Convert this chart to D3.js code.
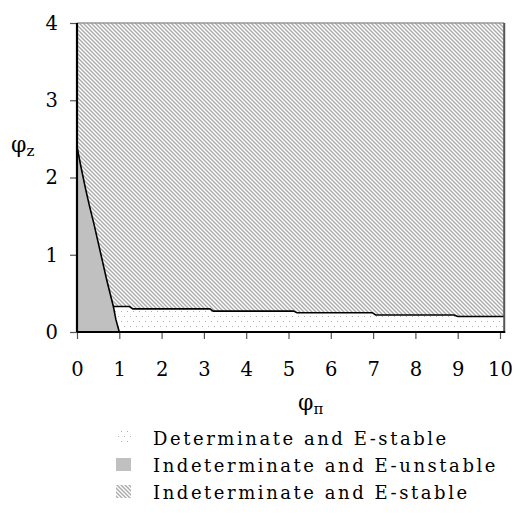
<!DOCTYPE html>
<html><head><meta charset="utf-8">
<script src="https://cdn.jsdelivr.net/npm/d3@7"></script>
<style>body{margin:0;background:#fff}svg{display:block}</style>
</head><body>
<svg id="c" width="520" height="513"></svg>
<script>
const xTicks = [0,1,2,3,4,5,6,7,8,9,10];
const yTicks = [0,1,2,3,4];
// boundary between E-unstable (left) and the rest
const unstableX = [0, 0.1, 0.2, 0.3, 0.4, 0.5, 0.6, 0.7, 0.8, 0.86, 0.92, 1.0];
const unstableY = [2.4, 2.12, 1.86, 1.62, 1.4, 1.16, 0.92, 0.68, 0.46, 0.33, 0.16, 0.0];
// upper boundary of determinate region
const detX = [0.86, 1.24, 1.32, 3.14, 3.22, 5.12, 5.2, 6.98, 7.06, 8.92, 9.0, 10.1];
const detY = [0.33, 0.33, 0.30, 0.30, 0.27, 0.27, 0.25, 0.25, 0.22, 0.22, 0.20, 0.20];
const legendLabels = ["Determinate and E-stable","Indeterminate and E-unstable","Indeterminate and E-stable"];

const svg = d3.select("#c");
const x = d3.scaleLinear().domain([0,10]).range([77,500]);
const y = d3.scaleLinear().domain([0,4]).range([332,23]);
const xMax = 10.1;
const font = "DejaVu Serif";

const defs = svg.append("defs");
const hatch = defs.append("pattern").attr("id","hatch").attr("patternUnits","userSpaceOnUse")
  .attr("width",4).attr("height",4);
hatch.append("rect").attr("width",4).attr("height",4).attr("fill","#fff");
hatch.append("path").attr("d","M-1,-1L5,5M-1,3L1,5M3,-1L5,1").attr("stroke","#ababab").attr("stroke-width",1.4);
const dots = defs.append("pattern").attr("id","dots").attr("patternUnits","userSpaceOnUse")
  .attr("width",6).attr("height",10);
dots.append("rect").attr("width",6).attr("height",10).attr("fill","#fff");
dots.append("rect").attr("x",1).attr("y",1).attr("width",1).attr("height",1).attr("fill","#b0b0b0");
dots.append("rect").attr("x",4).attr("y",6).attr("width",1).attr("height",1).attr("fill","#b0b0b0");

const line = d3.line().x(d=>x(d[0])).y(d=>y(d[1]));
const uPts = unstableX.map((v,i)=>[v,unstableY[i]]);
const dPts = detX.map((v,i)=>[v,detY[i]]);

// hatched background
svg.append("rect").attr("x",x(0)).attr("y",y(4)).attr("width",x(xMax)-x(0)).attr("height",y(0)-y(4))
  .attr("fill","url(#hatch)");
// E-unstable gray
svg.append("path").attr("d", line([[0,0]].concat(uPts)) + "Z").attr("fill","#c0c0c0");
// determinate dotted
const detPoly = dPts.concat([[xMax,0],[1,0]]).concat(uPts.filter(p=>p[0]>=0.86).reverse());
svg.append("path").attr("d", line(detPoly)+"Z").attr("fill","url(#dots)");
// boundary lines
svg.append("path").attr("d", line(uPts)).attr("fill","none").attr("stroke","#000").attr("stroke-width",1.6);
svg.append("path").attr("d", line(dPts)).attr("fill","none").attr("stroke","#000").attr("stroke-width",1.6);

// borders
svg.append("line").attr("x1",x(0)).attr("x2",x(xMax)).attr("y1",y(4)).attr("y2",y(4)).attr("stroke","#999").attr("stroke-width",1.5);
svg.append("line").attr("x1",x(xMax)).attr("x2",x(xMax)).attr("y1",y(4)).attr("y2",y(0)).attr("stroke","#555").attr("stroke-width",2);

// axes
const xa = svg.append("g").attr("transform",`translate(0,${y(0)})`)
  .call(d3.axisBottom(x).tickValues(xTicks).tickFormat(d3.format("d")).tickSize(7).tickPadding(23).tickSizeOuter(0));
xa.select(".domain").remove();
xa.append("line").attr("x1",x(0)-1).attr("x2",x(xMax)+1).attr("stroke","#000").attr("stroke-width",2.2);
const ya = svg.append("g").attr("transform",`translate(${x(0)},0)`)
  .call(d3.axisLeft(y).tickValues(yTicks).tickFormat(d3.format("d")).tickSize(7).tickPadding(12).tickSizeOuter(0));
ya.select(".domain").remove();
ya.append("line").attr("y1",y(0)).attr("y2",y(4)).attr("stroke","#000").attr("stroke-width",2.2);
svg.selectAll(".tick line").attr("stroke","#555").attr("stroke-width",1.2);
svg.selectAll(".tick text").attr("font-family",font).attr("font-size",19.5).attr("fill","#000");

// axis titles
const tx = svg.append("text").attr("x",298).attr("y",410)
  .attr("font-family",font).attr("font-size",22);
tx.append("tspan").text("φ");
tx.append("tspan").attr("font-size",15).attr("dy",4).text("π");
const ty = svg.append("text").attr("x",11).attr("y",152)
  .attr("font-family",font).attr("font-size",22);
ty.append("tspan").text("φ");
ty.append("tspan").attr("font-size",15).attr("dy",4).text("z");

// legend
const fills = ["url(#dots)","#c0c0c0","url(#hatch)"];
legendLabels.forEach((t,i)=>{
  const yy = 438 + i*27;
  svg.append("rect").attr("x",116).attr("y",yy-7).attr("width",15).attr("height",13).attr("fill",fills[i]);
  svg.append("text").attr("x",153).attr("y",yy+7).attr("font-family",font).attr("font-size",18)
    .attr("letter-spacing",2.55).text(t);
});
</script>
</body></html>
